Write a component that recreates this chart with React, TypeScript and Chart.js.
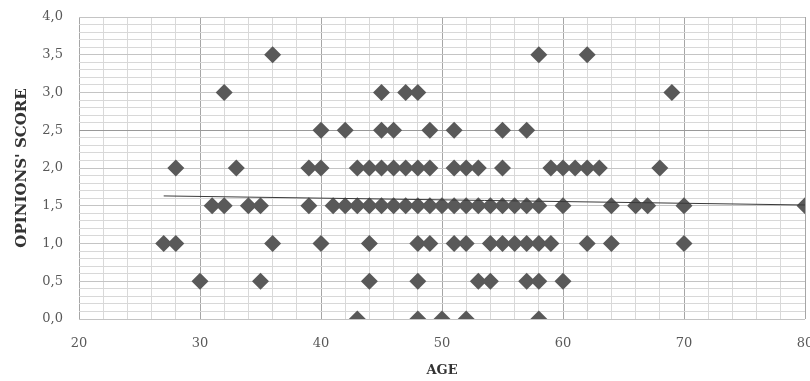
import React, { useEffect, useRef } from "react";
import { Chart, registerables } from "chart.js";

Chart.register(...registerables);

// Ages observed at each opinion score level
const agesAtScore35 = [36, 58, 62];
const agesAtScore30 = [32, 45, 47, 48, 69];
const agesAtScore25 = [40, 42, 45, 46, 49, 51, 55, 57];
const agesAtScore20 = [28, 33, 39, 40, 43, 44, 45, 46, 47, 48, 49, 51, 52, 53, 55, 59, 60, 61, 62, 63, 68];
const agesAtScore15 = [31, 32, 34, 35, 39, 41, 42, 43, 44, 45, 46, 47, 48, 49, 50, 51, 52, 53, 54, 55, 56, 57, 58, 60, 64, 66, 67, 70, 80];
const agesAtScore10 = [27, 28, 36, 40, 44, 48, 49, 51, 52, 54, 55, 56, 57, 58, 59, 62, 64, 70];
const agesAtScore05 = [30, 35, 44, 48, 53, 54, 57, 58, 60];
const agesAtScore00 = [43, 48, 50, 52, 58];

const scoreLevels = [3.5, 3.0, 2.5, 2.0, 1.5, 1.0, 0.5, 0.0];
const agesByLevel = [
  agesAtScore35,
  agesAtScore30,
  agesAtScore25,
  agesAtScore20,
  agesAtScore15,
  agesAtScore10,
  agesAtScore05,
  agesAtScore00,
];

// Linear trend line endpoints
const trendAges = [27, 80];
const trendScores = [1.63, 1.51];

const xTitle = "AGE";
const yTitle = "OPINIONS' SCORE";

export default function App() {
  const ref = useRef<HTMLCanvasElement | null>(null);

  useEffect(() => {
    if (!ref.current) return;
    const points: { x: number; y: number }[] = [];
    scoreLevels.forEach((s, i) => {
      agesByLevel[i].forEach((a) => points.push({ x: a, y: s }));
    });
    const trend = trendAges.map((a, i) => ({ x: a, y: trendScores[i] }));

    const serif = "'DejaVu Serif', 'Liberation Serif', serif";

    const chart = new Chart(ref.current, {
      type: "scatter",
      data: {
        datasets: [
          {
            type: "line",
            data: trend,
            borderColor: "#3a3a3a",
            borderWidth: 1,
            pointRadius: 0,
            fill: false,
            order: 0,
          } as any,
          {
            data: points,
            pointStyle: "rectRot",
            pointRadius: 8.5,
            pointHoverRadius: 8.5,
            backgroundColor: "#595959",
            borderWidth: 0,
            order: 1,
          },
        ],
      },
      options: {
        animation: false,
        responsive: false,
        events: [],
        layout: { autoPadding: false, padding: { top: 17, left: 0, right: 5, bottom: 0 } },
        plugins: {
          legend: { display: false },
          tooltip: { enabled: false },
        },
        scales: {
          x: {
            type: "linear",
            min: 20,
            max: 80,
            border: { display: false },
            grid: {
              drawTicks: false,
              color: (ctx: any) => {
                const v = ctx.tick ? ctx.tick.value : 0;
                return Math.abs(v % 10) < 1e-6 ? "#a6a6a6" : "#d9d9d9";
              },
              lineWidth: 1,
            },
            ticks: {
              stepSize: 2,
              autoSkip: false,
              maxTicksLimit: 1000,
              maxRotation: 0,
              padding: 17,
              color: "#595959",
              font: { family: serif, size: 13 },
              callback: (v: any) => (Math.abs(Number(v) % 10) < 1e-6 ? String(v) : ""),
            },
            title: {
              display: true,
              text: xTitle,
              color: "#333333",
              font: { family: serif, size: 13, weight: "bold" },
              padding: { top: 0, bottom: 3 },
            },
            afterFit: (s: any) => {
              s.height = 62;
              s.paddingLeft = 0;
              s.paddingRight = 0;
            },
          },
          y: {
            type: "linear",
            min: 0,
            max: 4,
            border: { display: false },
            grid: {
              drawTicks: false,
              color: (ctx: any) => {
                const v = ctx.tick ? ctx.tick.value : 0;
                if (Math.abs(v - 2.5) < 1e-6) return "#999999";
                return Math.abs(v * 2 - Math.round(v * 2)) < 1e-6 ? "#c4c4c4" : "#d8d8d8";
              },
              lineWidth: 1,
            },
            ticks: {
              stepSize: 0.1,
              autoSkip: false,
              maxTicksLimit: 1000,
              padding: 16,
              color: "#595959",
              font: { family: serif, size: 13 },
              callback: (v: any) => {
                const n = Number(v);
                return Math.abs(n * 2 - Math.round(n * 2)) < 1e-6
                  ? n.toFixed(1).replace(".", ",")
                  : "";
              },
            },
            title: {
              display: true,
              text: yTitle,
              color: "#333333",
              font: { family: serif, size: 15, weight: "bold" },
              padding: { top: 13, bottom: 0 },
            },
            afterFit: (s: any) => {
              s.width = 79;
              s.paddingTop = 0;
              s.paddingBottom = 0;
            },
          },
        },
      },
    });
    return () => chart.destroy();
  }, []);

  return (
    <div
      style={{
        position: "fixed",
        left: 0,
        top: 0,
        width: 810,
        height: 381,
        overflow: "hidden",
        background: "#ffffff",
      }}
    >
      <canvas ref={ref} width={810} height={381} style={{ display: "block" }} />
    </div>
  );
}
